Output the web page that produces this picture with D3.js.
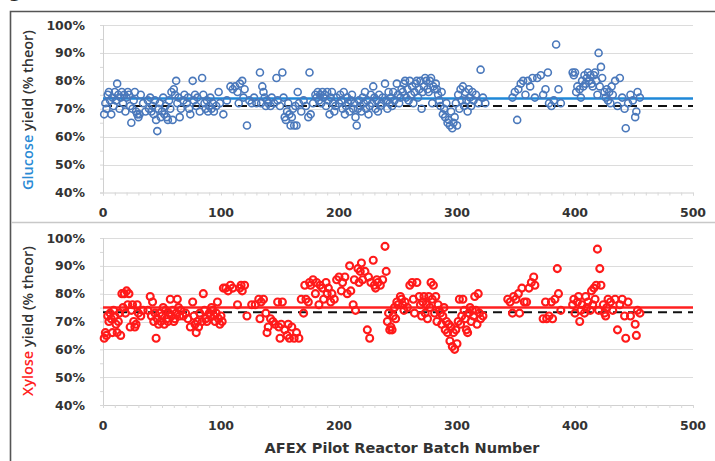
<!DOCTYPE html>
<html><head><meta charset="utf-8">
<script src="https://cdn.jsdelivr.net/npm/d3@7"></script>
<style>body{margin:0;background:#fff;} svg{display:block;}</style>
</head><body><svg id="c" width="715" height="461"></svg>
<script>
const xTicks = [0,100,200,300,400,500];
const yTicks = [40,50,60,70,80,90,100];
const glucoseMean = 73.7, glucoseRef = 71;
const xyloseMean = 75, xyloseRef = 73.3;
const glucosePoints = [[1,68],[2,72],[3,70],[4,75],[5,76],[6,73],[7,68],[8,74],[9,71],[10,76],[11,73],[12,79],[13,75],[14,70],[15,74],[16,76],[17,72],[18,75],[19,69],[20,74],[21,76],[22,75],[23,71],[24,65],[25,70],[26,73],[27,76],[28,69],[29,68],[30,67],[31,68],[32,75],[34,72],[36,69],
[38,73],[39,70],[40,74],[41,69],[42,71],[43,68],[44,73],[45,66],[46,62],[47,70],[48,72],[49,67],[50,69],[51,74],[52,68],[53,71],[54,67],[55,66],[56,73],[57,70],[58,76],[59,66],[60,77],[61,75],[62,80],[63,72],[64,74],[65,67],[66,70],[68,73],[69,75],
[71,72],[72,74],[73,70],[74,68],[76,80],[77,73],[78,75],[79,71],[80,74],[82,69],[84,81],[85,75],[86,72],[87,70],[88,73],[89,69],[90,71],[91,74],[92,70],[93,72],[94,69],[96,71],[98,76],[99,72],[102,68],
[105,73],[108,78],[110,77],[112,78],[114,76],[115,72],[116,79],[118,80],[119,74],[120,77],[122,64],[124,73],[126,72],[128,74],[130,72],
[133,83],[134,72],[135,78],[136,76],[137,74],[138,71],[139,73],[140,72],[142,71],[143,74],[145,72],[147,81],[148,73],[150,71],[152,83],[153,74],[154,67],[155,66],[156,69],[157,72],[158,68],[159,64],[160,67],[161,70],[162,64],[163,71],[164,64],[165,76],[166,72],[168,69],[170,73],
[172,71],[174,67],[175,83],[176,68],[178,72],[180,75],[181,74],[182,76],[183,73],[184,75],[185,72],[186,76],[187,74],[188,75],[189,71],[190,76],[191,73],[192,68],[193,74],[194,76],[195,72],[196,69],[197,71],[198,74],[200,72],
[201,75],[202,73],[203,70],[204,76],[205,68],[206,71],[207,74],[208,72],[209,69],[210,73],[211,75],[212,70],[213,72],[214,67],[215,64],[216,70],[217,73],[218,71],[219,69],[220,74],[221,72],[222,76],[223,70],[224,73],[225,68],[226,71],[227,75],[228,72],[229,78],[230,74],[231,70],[232,73],[233,69],[234,75],[235,71],[236,72],[237,74],[239,79],[240,73],[241,70],[242,76],[243,72],[244,74],[245,71],[246,76],[247,73],[249,79],[250,75],[251,72],[252,74],[253,77],[254,76],[255,79],[256,80],[257,74],[258,77],[259,73],[260,80],[261,75],[262,78],[263,72],[264,76],[265,79],[266,80],[267,74],[268,77],[269,80],[270,70],[271,76],[272,78],[273,81],[274,80],[275,77],[276,76],[277,80],[278,81],[279,72],[280,78],[281,77],[282,79],[283,77],[284,75],[285,73],[286,71],[287,76],[288,68],[289,70],[290,67],[291,72],[292,65],[293,66],[294,64],[295,69],[296,63],[297,65],[298,67],[299,72],[300,64],[301,75],[302,70],[303,77],[304,73],[305,78],[306,71],[307,76],[308,73],[309,69],[310,77],[311,74],[312,71],[313,76],[314,73],[316,75],[318,72],[320,84],[322,74],[324,72],
[347,74],[349,76],[351,66],[352,77],[354,79],[356,80],[358,75],[360,80],[362,78],[364,81],[366,74],[368,81],[371,82],[373,75],[375,77],[377,83],[378,72],[380,71],[382,73],[384,93],[386,77],[388,72],
[398,83],[399,82],[400,83],[401,76],[402,78],[404,77],[405,74],[406,80],[407,78],[408,82],[409,79],[410,81],[411,83],[412,80],[413,82],[414,79],[415,78],[416,82],[417,83],[418,80],[419,75],[420,90],[421,78],[422,85],[423,81],[425,76],[426,74],[427,77],[428,73],[429,76],[430,72],[431,78],[432,75],[434,80],[436,71],[438,81],[440,74],[442,70],[443,63],[445,72],[447,75],[449,73],[451,67],[452,69],[453,76],[455,74]];
const xylosePoints = [[1,64],[2,66],[3,65],[4,72],[5,70],[6,73],[7,71],[8,66],[9,74],[10,72],[11,69],[12,66],[13,70],[14,73],[15,65],[16,80],[17,75],[18,80],[19,73],[20,81],[21,76],[22,80],[23,68],[24,74],[25,76],[26,70],[27,68],[28,69],[29,76],[30,73],[32,72],[34,74],
[38,74],[40,79],[41,72],[42,77],[43,70],[44,73],[45,64],[46,71],[47,69],[48,73],[49,70],[50,72],[51,75],[52,69],[53,74],[54,71],[55,70],[56,73],[57,78],[58,72],[59,74],[60,70],[61,71],[62,73],[63,78],[64,75],[65,72],[66,74],[68,72],[70,73],
[72,71],[74,68],[76,77],[77,72],[78,69],[79,66],[80,70],[81,68],[82,73],[84,70],[85,80],[86,74],[87,71],[88,70],[90,73],[91,72],[92,75],[93,74],[94,72],[95,70],[96,73],[97,77],[98,71],[99,69],[100,72],[101,70],[102,82],[104,82],[106,81],[108,83],[110,82],
[114,76],[116,82],[117,83],[118,81],[120,83],[122,72],[126,76],[129,76],[132,78],[133,71],[134,77],[136,78],[138,73],[139,66],[140,68],[142,71],[144,70],[146,69],[148,77],[149,68],[150,64],[151,69],[152,77],[154,67],[156,65],[157,69],[158,64],[160,68],[162,64],[164,66],[166,64],[168,78],[170,73],[171,83],[172,78],[174,77],[175,84],[176,83],[178,85],[180,80],[181,84],[183,76],[184,83],[186,82],[187,78],[189,84],[190,80],[191,82],[193,77],[194,80],[196,78],[198,85],[200,86],[202,81],[203,84],[205,86],[207,80],[209,90],[210,81],[212,76],[213,85],[214,74],
[216,89],[217,84],[218,88],[219,91],[220,85],[222,88],[224,67],[225,86],[226,64],[227,84],[229,92],[230,83],[231,82],[232,85],[233,84],[235,83],[237,85],[239,97],[240,88],[241,70],[242,73],[243,67],[244,68],[245,67],[246,72],[247,75],[248,71],[249,77],[250,76],[252,79],[253,78],[254,76],[255,74],[256,77],[258,75],[260,83],[262,84],[263,78],[264,73],[266,84],[268,79],[269,76],[270,72],[271,77],[272,79],[273,73],[274,76],[275,71],[276,79],[277,75],[278,84],[279,78],[280,83],[281,73],[282,79],[283,70],[284,76],[285,74],[286,73],[287,69],[288,72],[289,75],[290,67],[291,70],[292,66],[293,69],[294,63],[295,68],[296,61],[297,66],[298,60],[299,67],[300,62],[301,70],[302,78],[303,69],[304,72],[305,78],[306,74],[307,71],[308,67],[309,66],[310,73],[311,75],[312,70],[313,74],[314,72],[315,79],[316,74],[317,69],[318,80],[319,73],[320,71],[322,72],
[343,78],[345,77],[347,73],[348,79],[350,78],[352,80],[353,73],[355,82],[357,77],[359,77],[361,82],[363,84],[365,86],[366,83],[373,71],[375,77],[376,71],[378,72],[380,77],[381,71],[383,78],[385,89],[386,80],[388,74],
[398,76],[399,78],[400,73],[402,77],[403,79],[404,70],[405,74],[406,76],[408,73],[409,79],[410,75],[411,77],[413,74],[414,81],[415,76],[416,82],[417,78],[418,83],[419,96],[420,74],[421,89],[422,83],[424,76],[425,73],[426,72],[427,75],[428,78],[430,77],[432,74],[434,78],[436,67],[438,76],[440,78],[442,72],[443,64],[445,77],[447,72],[451,69],[452,65],[453,74],[455,73]];

const svg = d3.select("#c");
const x = d3.scaleLinear().domain([0,500]).range([103,693]);

// frame
svg.append("path").attr("d","M10.5,470 V11.5 H720").attr("fill","none").attr("stroke","#555").attr("stroke-width",1.6);
svg.append("line").attr("x1",11).attr("x2",715).attr("y1",222.5).attr("y2",222.5).attr("stroke","#c8c8c8").attr("stroke-width",1.5);
svg.append("text").attr("x",8).attr("y",-3).attr("font-family","DejaVu Sans").attr("font-size",22).attr("fill","#222").text("g");

function panel(cfg){
  const y = d3.scaleLinear().domain([40,100]).range([cfg.y0,cfg.y1]);
  const g = svg.append("g");
  g.selectAll(".grid").data(yTicks.filter(d=>d>40)).join("line")
    .attr("x1",x(0)).attr("x2",x(500)).attr("y1",d=>Math.round(y(d))+0.5).attr("y2",d=>Math.round(y(d))+0.5)
    .attr("stroke","#dcdcdc").attr("stroke-width",1);
  const ya = g.append("g").attr("transform",`translate(${x(0)},0)`)
    .call(d3.axisLeft(y).tickValues(d3.range(40,101,5)).tickSize(3).tickFormat(""));
  ya.select(".domain").attr("stroke","#d0d0d0");
  ya.selectAll(".tick line").attr("stroke","#d8d8d8");
  g.selectAll(".yl").data(yTicks).join("text")
    .attr("x",85).attr("y",d=>y(d)).attr("dy","0.36em").attr("text-anchor","end")
    .attr("font-family","DejaVu Sans").attr("font-weight","bold").attr("font-size",12.5).attr("fill","#333")
    .text(d=>d+"%");
  const xa = g.append("g").attr("transform",`translate(0,${cfg.y0})`)
    .call(d3.axisBottom(x).tickValues(d3.range(0,501,10)).tickSize(3).tickFormat(""));
  xa.select(".domain").attr("stroke","#d0d0d0");
  xa.selectAll(".tick line").attr("stroke","#d8d8d8");
  g.selectAll(".xl").data(xTicks).join("text")
    .attr("x",d=>x(d)).attr("y",cfg.y0+24.5).attr("text-anchor","middle")
    .attr("font-family","DejaVu Sans").attr("font-weight","bold").attr("font-size",12.5).attr("fill","#333")
    .text(d=>d);
  g.append("line").attr("x1",x(0)).attr("x2",x(500)).attr("y1",y(cfg.mean)).attr("y2",y(cfg.mean))
    .attr("stroke",cfg.lineColor).attr("stroke-width",2.5);
  g.append("line").attr("x1",x(0)).attr("x2",x(500)).attr("y1",y(cfg.ref)).attr("y2",y(cfg.ref))
    .attr("stroke","#111").attr("stroke-width",2).attr("stroke-dasharray","9,6");
  g.selectAll(".pt").data(cfg.points).join("circle")
    .attr("cx",d=>x(d[0])).attr("cy",d=>y(d[1])).attr("r",3.5)
    .attr("fill","none").attr("stroke",cfg.color).attr("stroke-width",cfg.sw);
  const t = g.append("text").attr("transform",`translate(${cfg.tx},${cfg.ty}) rotate(-90)`)
    .attr("text-anchor","middle").attr("font-family","Open Sans").attr("font-weight",600).attr("font-size",14.5).attr("fill","#333");
  t.append("tspan").attr("fill",cfg.titleColor).text(cfg.name);
  t.append("tspan").text(" yield (% theor)");
}

panel({y0:192.5,y1:25,points:glucosePoints,color:"#4a78bb",sw:1.6,lineColor:"#1f88d8",mean:glucoseMean,ref:glucoseRef,name:"Glucose",titleColor:"#2a8ad4",tx:33,ty:110});
panel({y0:405,y1:238,points:xylosePoints,color:"#ff1a1a",sw:2.1,lineColor:"#ff2020",mean:xyloseMean,ref:xyloseRef,name:"Xylose",titleColor:"#ff2020",tx:33,ty:321});

svg.append("text").attr("x",402).attr("y",453).attr("text-anchor","middle")
  .attr("font-family","DejaVu Sans").attr("font-weight","bold").attr("font-size",14.5).attr("fill","#333")
  .text("AFEX Pilot Reactor Batch Number");
</script></body></html>
